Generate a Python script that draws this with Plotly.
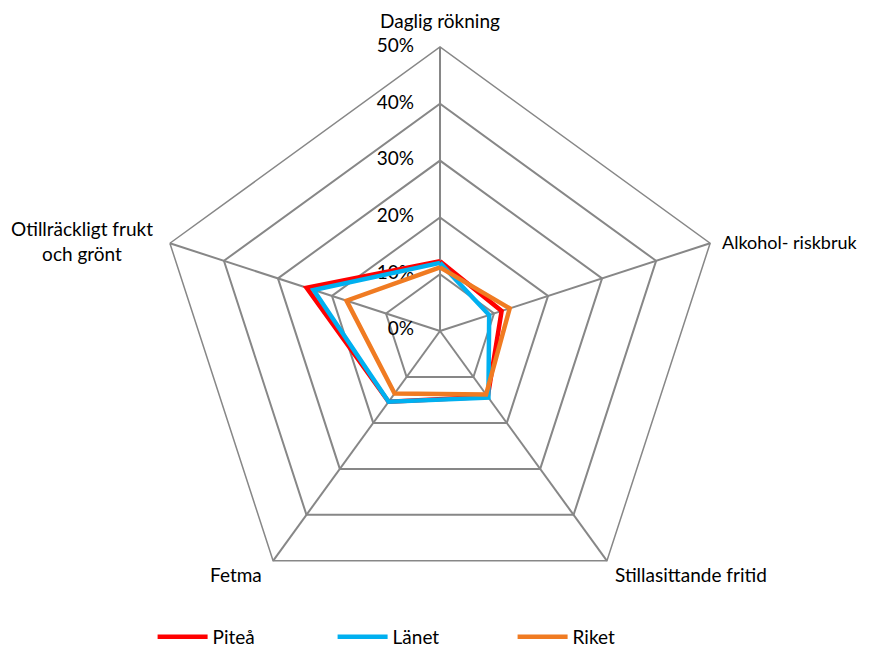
import plotly.graph_objects as go

categories = ["Daglig rökning", "Alkohol- riskbruk", "Stillasittande fritid",
              "Fetma", "Otillräckligt frukt<br>och grönt"]
pitea = [12.3, 11.4, 14.3, 15.4, 24.7]
lanet = [12.0, 9.1, 14.5, 15.4, 23.4]
riket = [11.2, 12.9, 13.8, 13.6, 17.3]

radial_ticks = [0, 10, 20, 30, 40, 50]
radial_labels = ["0%", "10%", "20%", "30%", "40%", "50%"]

series = [("Piteå", pitea, "#FF0000"),
          ("Länet", lanet, "#00B0F0"),
          ("Riket", riket, "#F07B22")]

FONT = "Lato, Open Sans, sans-serif"
GRID = "#878787"
FS = 19

fig = go.Figure()

# percentage labels beside the vertical spoke, upright
# (the 0% anchor is nudged a hair off the pole so it counts as inside the grid)
fig.add_trace(go.Scatterpolar(
    r=[t if t else 0.1 for t in radial_ticks],
    theta=[categories[0]] * len(radial_ticks),
    mode="markers+text",
    text=radial_labels,
    textposition="middle left",
    textfont=dict(family=FONT, size=FS, color="#000000"),
    marker=dict(size=40, color="rgba(0,0,0,0)"),
    cliponaxis=False,
    showlegend=False,
    hoverinfo="skip",
))

for name, vals, color in series:
    fig.add_trace(go.Scatterpolar(
        r=vals + vals[:1],
        theta=categories + categories[:1],
        mode="lines",
        name=name,
        line=dict(color=color, width=4.5),
    ))

# category labels placed around the pentagon
label_pos = [
    (categories[0], 440, 20, "center", FS),
    (categories[1], 720, 242, "left", 18),
    (categories[2], 613, 574, "left", FS),
    (categories[3], 264, 574, "right", FS),
    (categories[4], 82, 241, "center", FS),
]
for text, px, py, anchor, size in label_pos:
    fig.add_annotation(
        x=px / 872, y=1 - py / 652, xref="paper", yref="paper",
        text=text, showarrow=False, align="center",
        xanchor=anchor, yanchor="middle",
        font=dict(family=FONT, size=size, color="#000000"),
    )

fig.update_layout(
    width=872, height=652,
    margin=dict(l=0, r=0, t=0, b=0, autoexpand=False),
    paper_bgcolor="white",
    plot_bgcolor="white",
    font=dict(family=FONT, size=FS, color="#000000"),
    polar=dict(
        domain=dict(x=[0.1789, 0.8303], y=[0.0567, 0.9279]),
        gridshape="linear",
        bgcolor="white",
        angularaxis=dict(
            direction="clockwise",
            rotation=90,
            showline=True,
            linecolor=GRID,
            linewidth=1.5,
            gridcolor=GRID,
            gridwidth=1.5,
            ticks="",
            showticklabels=False,
        ),
        radialaxis=dict(
            range=[0, 50],
            tickvals=radial_ticks,
            angle=90,
            showline=False,
            gridcolor=GRID,
            gridwidth=1.5,
            ticks="",
            showticklabels=False,
        ),
    ),
    legend=dict(
        orientation="h",
        x=0.175, xanchor="left",
        y=-0.006, yanchor="bottom",
        font=dict(family=FONT, size=FS),
        entrywidth=115,
        itemwidth=50,
    ),
)

fig.write_html("out.html")
